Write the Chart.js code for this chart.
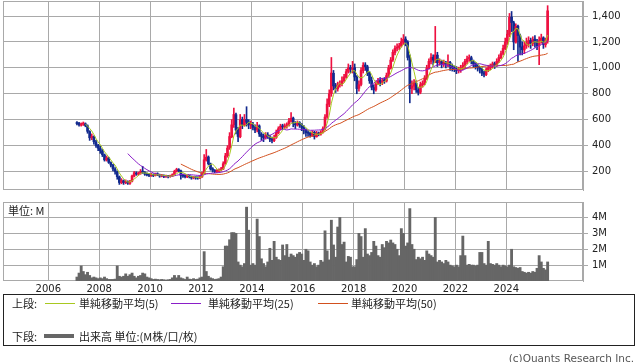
<!DOCTYPE html>
<html>
<head>
<meta charset="utf-8">
<script src="https://cdn.jsdelivr.net/npm/chart.js@4.4.1/dist/chart.umd.min.js"></script>
<style>
  body { margin: 0; background: #fff; }
  #wrap { position: relative; width: 638px; height: 362px; overflow: hidden; font-family: "DejaVu Sans", sans-serif; }
  #priceChart { position: absolute; left: 0; top: 0; }
  #volumeChart { position: absolute; left: 0; top: 196px; }
  .jp { font-family: "Noto Sans CJK JP", sans-serif; font-size: 11px; color: #222; position: absolute; line-height: 14px; white-space: nowrap; }
  #unit { left: 8px; top: 203px; }
  #legend { position: absolute; left: 3px; top: 294px; width: 630px; height: 50px; border: 1px solid #222; }
  .key { position: absolute; height: 1px; }
  #copy { position: absolute; right: 4px; top: 352px; font-size: 10.5px; color: #555; }
</style>
</head>
<body>
<div id="wrap">
  <canvas id="priceChart" width="638" height="191"></canvas>
  <canvas id="volumeChart" width="638" height="100"></canvas>
  <div class="jp" id="unit">単位: M</div>
  <div id="legend">
    <div class="jp" style="left:8px;top:1px">上段:</div>
    <div class="key" style="left:41px;top:8px;width:30px;background:#a8c820"></div>
    <div class="jp" style="left:75px;top:1px">単純移動平均(5)</div>
    <div class="key" style="left:167px;top:8px;width:30px;background:#8a1ec8"></div>
    <div class="jp" style="left:204px;top:1px">単純移動平均(25)</div>
    <div class="key" style="left:314px;top:8px;width:30px;background:#d2501e"></div>
    <div class="jp" style="left:347px;top:1px">単純移動平均(50)</div>
    <div class="jp" style="left:8px;top:34px">下段:</div>
    <div class="key" style="left:40px;top:39px;width:30px;height:4px;background:#666"></div>
    <div class="jp" style="left:75px;top:34px">出来高 単位:(M株/口/枚)</div>
  </div>
  <div id="copy">(c)Quants Research Inc.</div>
</div>
<script>
// monthly candles, Feb 2007 .. Aug 2025
const firstYear = 2007;
const firstMonth = 2;
const yearTicks = [2006, 2008, 2010, 2012, 2014, 2016, 2018, 2020, 2022, 2024];
const priceTicks = [200, 400, 600, 800, 1000, 1200, 1400];
const volumeTicks = [1, 2, 3, 4];

const opens = [
  575, 572, 558, 566, 568, 552, 508, 462, 468, 428, 402,
  378, 358, 328, 288, 303, 268, 248, 218, 198, 158, 113, 128,
  116, 122, 108, 126, 164, 188, 180, 186, 198, 193, 182, 176,
  171, 176, 169, 181, 174, 166, 171, 159, 166, 161, 164, 176,
  202, 214, 206, 171, 166, 159, 166, 161, 151, 156, 151, 149,
  158, 186, 288, 312, 258, 221, 209, 201, 204, 211, 219, 262,
  322, 382, 468, 562, 638, 522, 468, 602, 558, 602, 582, 558,
  562, 538, 522, 552, 488, 472, 458, 482, 468, 452, 438, 462,
  498, 532, 548, 543, 552, 557, 588, 612, 568, 558, 577, 562,
  538, 522, 498, 497, 478, 502, 468, 497, 488, 502, 528, 622,
  718, 802, 958, 862, 838, 872, 878, 902, 928, 972, 1002, 988,
  1002, 928, 842, 872, 978, 1022, 1008, 958, 902, 848, 832, 878,
  902, 888, 902, 898, 942, 998, 1062, 1118, 1152, 1158, 1172, 1198,
  1222, 1198, 1078, 842, 858, 882, 828, 812, 868, 882, 918, 1002,
  1048, 1082, 1058, 1098, 1042, 1048, 1032, 1038, 1028, 1042, 1012, 1002,
  992, 978, 992, 998, 1022, 1048, 1072, 1078, 1048, 1032, 1012, 998,
  988, 962, 948, 987, 998, 1012, 1032, 1018, 1052, 1078, 1112, 1148,
  1202, 1258, 1392, 1348, 1198, 1322, 1248, 1162, 1138, 1172, 1188, 1212,
  1188, 1222, 1198, 1172, 1208, 1232, 1178, 1212
];
const highs = [
  585, 580, 575, 582, 575, 560, 515, 490, 475, 440, 410,
  395, 370, 335, 320, 310, 275, 255, 230, 205, 165, 145, 135,
  135, 128, 132, 172, 200, 198, 195, 215, 240, 200, 190, 185,
  185, 182, 188, 190, 180, 178, 175, 172, 170, 172, 182, 210,
  225, 222, 210, 180, 172, 172, 170, 165, 162, 160, 158, 168,
  195, 330, 370, 320, 265, 230, 215, 215, 220, 232, 275, 340,
  400, 500, 600, 690, 650, 540, 640, 620, 640, 700, 600, 590,
  580, 560, 580, 560, 500, 490, 500, 500, 480, 465, 480, 520,
  545, 565, 565, 568, 575, 610, 655, 620, 585, 590, 585, 570,
  555, 530, 515, 505, 515, 510, 510, 505, 515, 545, 640, 760,
  830, 1080, 980, 880, 890, 900, 930, 950, 990, 1030, 1020, 1050,
  1030, 940, 900, 1000, 1040, 1040, 1020, 970, 930, 870, 900, 920,
  925, 920, 925, 960, 1020, 1080, 1140, 1170, 1185, 1190, 1230, 1257,
  1240, 1210, 1100, 900, 910, 900, 850, 890, 900, 940, 1020, 1070,
  1110, 1100, 1320, 1120, 1070, 1060, 1060, 1050, 1100, 1050, 1030, 1015,
  1010, 1005, 1020, 1040, 1065, 1090, 1100, 1090, 1060, 1040, 1025, 1010,
  1000, 975, 1000, 1020, 1030, 1045, 1045, 1070, 1100, 1130, 1175, 1230,
  1290, 1420, 1435, 1360, 1340, 1330, 1260, 1200, 1200, 1230, 1240, 1230,
  1240, 1250, 1220, 1240, 1260, 1240, 1230, 1480
];
const lows = [
  560, 550, 550, 555, 545, 495, 440, 445, 410, 385, 360,
  340, 315, 280, 280, 262, 235, 205, 180, 140, 100, 105, 100,
  105, 100, 100, 120, 158, 170, 170, 178, 185, 170, 165, 160,
  162, 160, 165, 168, 155, 158, 152, 155, 150, 155, 160, 172,
  195, 198, 140, 155, 150, 152, 150, 140, 143, 140, 140, 145,
  155, 180, 280, 250, 210, 195, 190, 190, 198, 205, 215, 255,
  310, 370, 460, 540, 490, 430, 460, 530, 550, 550, 530, 530,
  520, 500, 505, 470, 440, 430, 450, 455, 430, 420, 430, 455,
  490, 520, 525, 530, 535, 550, 580, 545, 530, 550, 540, 515,
  490, 470, 470, 465, 470, 450, 465, 475, 480, 495, 520, 610,
  700, 780, 830, 810, 820, 850, 860, 890, 920, 960, 960, 960,
  900, 800, 820, 860, 960, 980, 940, 880, 830, 800, 820, 870,
  860, 870, 880, 890, 930, 990, 1050, 1100, 1130, 1140, 1160, 1180,
  1170, 1060, 730, 800, 830, 810, 790, 800, 850, 870, 910, 990,
  1030, 1020, 1040, 1010, 1020, 1000, 1010, 1000, 1010, 980, 975, 970,
  955, 960, 965, 985, 1000, 1030, 1050, 1030, 1005, 990, 975, 960,
  940, 930, 940, 970, 985, 1000, 995, 1010, 1040, 1070, 1100, 1140,
  1180, 1240, 1280, 1140, 1190, 1050, 1100, 1100, 1110, 1150, 1160, 1150,
  1170, 1160, 1140, 1025, 1190, 1150, 1160, 1190
];
const closes = [
  570, 560, 565, 570, 555, 510, 460, 470, 430, 400, 380,
  360, 330, 290, 305, 270, 250, 220, 200, 160, 115, 130, 115,
  120, 110, 125, 165, 190, 180, 185, 200, 195, 180, 175, 170,
  175, 170, 180, 175, 165, 170, 160, 165, 160, 165, 175, 200,
  215, 205, 170, 165, 160, 165, 160, 150, 155, 150, 150, 160,
  185, 290, 310, 260, 220, 210, 200, 205, 210, 220, 260, 320,
  380, 470, 560, 640, 520, 470, 600, 560, 600, 580, 560, 560,
  540, 520, 550, 490, 470, 460, 480, 470, 450, 440, 460, 500,
  530, 550, 545, 550, 555, 590, 610, 570, 560, 575, 560, 540,
  520, 500, 495, 480, 500, 470, 495, 490, 500, 530, 620, 720,
  800, 960, 860, 840, 870, 880, 900, 930, 970, 1000, 990, 1000,
  930, 840, 870, 980, 1020, 1010, 960, 900, 850, 830, 880, 900,
  890, 900, 900, 940, 1000, 1060, 1120, 1150, 1160, 1170, 1200, 1220,
  1200, 1080, 840, 860, 880, 830, 810, 870, 880, 920, 1000, 1050,
  1080, 1060, 1100, 1040, 1050, 1030, 1040, 1030, 1040, 1010, 1000, 990,
  980, 990, 1000, 1020, 1050, 1070, 1080, 1050, 1030, 1010, 1000, 990,
  960, 950, 985, 1000, 1010, 1030, 1020, 1050, 1080, 1110, 1150, 1200,
  1260, 1390, 1350, 1200, 1320, 1250, 1160, 1140, 1170, 1190, 1210, 1190,
  1220, 1200, 1170, 1210, 1230, 1180, 1210, 1440
];
// volume in millions
const volumes = [
  0.25, 0.5, 0.95, 0.6, 0.4, 0.55, 0.35, 0.2, 0.25, 0.2, 0.15,
  0.2, 0.15, 0.25, 0.15, 0.1, 0.1, 0.1, 0.12, 0.95, 0.3, 0.25, 0.3,
  0.45, 0.3, 0.4, 0.5, 0.3, 0.2, 0.3, 0.35, 0.5, 0.45, 0.25, 0.2,
  0.15, 0.1, 0.12, 0.1, 0.08, 0.1, 0.08, 0.06, 0.08, 0.1, 0.2, 0.35,
  0.2, 0.35, 0.2, 0.15, 0.1, 0.25, 0.12, 0.1, 0.15, 0.1, 0.12, 0.2,
  0.25, 1.85, 0.6, 0.3, 0.2, 0.15, 0.1, 0.12, 0.15, 0.25, 0.9, 2.2,
  2.2, 2.6, 3.05, 3.05, 3.0, 1.2, 1.0, 0.9, 1.1, 4.65, 3.2, 1.0,
  1.1, 1.0, 3.9, 2.8, 1.4, 1.1, 0.9, 1.2, 2.06, 1.3, 2.5, 1.5,
  1.35, 1.3, 2.27, 1.6, 2.3, 1.5, 1.7, 1.6, 1.5, 1.7, 1.8, 1.7,
  1.3, 2.0, 1.9, 1.2, 1.0, 1.1, 0.9, 1.0, 1.3, 1.2, 3.16, 1.9,
  1.33, 3.83, 2.27, 1.5, 3.4, 4.0, 2.3, 2.45, 1.2, 1.55, 1.5, 0.9,
  0.9, 1.35, 3.0, 2.8, 1.5, 3.3, 1.7, 1.6, 1.8, 2.5, 2.2, 1.6,
  1.5, 2.3, 2.1, 2.5, 2.4, 2.58, 2.4, 2.3, 2.0, 1.6, 3.3, 3.0,
  2.2, 2.4, 4.56, 2.3, 2.0, 1.35, 1.5, 1.4, 1.5, 1.3, 1.9, 1.7,
  1.6, 1.5, 4.0, 1.2, 1.3, 1.2, 1.1, 1.3, 1.2, 1.0, 0.95, 0.9,
  1.0, 0.9, 1.6, 2.83, 1.6, 1.0, 1.05, 1.0, 1.0, 0.95, 1.0, 1.8,
  1.8, 1.1, 1.0, 2.5, 1.1, 1.05, 1.0, 1.1, 1.0, 0.9, 1.0, 0.95,
  0.9, 1.0, 2.0, 0.9, 0.85, 0.8, 0.85, 0.6, 0.55, 0.5, 0.55, 0.5,
  0.6, 0.55, 0.8, 1.6, 1.2, 0.8, 0.7, 1.2
];

const UP = '#ee1040';
const DOWN = '#122a8e';
const GRID = '#a9a9a9';
const tickFont = { family: 'DejaVu Sans', size: 10 };

// month centre as a decimal year
const times = closes.map((_, i) => {
  const m = firstMonth - 1 + i;
  return firstYear + Math.floor(m / 12) + ((m % 12) + 0.5) / 12;
});
const candleColors = closes.map((c, i) => (c >= opens[i] ? UP : DOWN));

function movingAverage(n) {
  const out = [];
  for (let i = n - 1; i < closes.length; i++) {
    let sum = 0;
    for (let k = i - n + 1; k <= i; k++) sum += closes[k];
    out.push({ x: times[i], y: sum / n });
  }
  return out;
}

const frame = {
  id: 'frame',
  beforeDatasetsDraw(chart) {
    const a = chart.chartArea;
    const ctx = chart.ctx;
    ctx.save();
    ctx.strokeStyle = GRID;
    ctx.lineWidth = 1;
    ctx.strokeRect(Math.round(a.left) + 0.5, Math.round(a.top) + 0.5,
      Math.round(a.right - a.left) - 1, Math.round(a.bottom - a.top) - 1);
    ctx.restore();
  }
};

const xMin = 2004.219;
const xMax = 2027.015;

function xScale(showLabels) {
  return {
    type: 'linear',
    min: xMin,
    max: xMax,
    offset: false,
    afterBuildTicks: s => { s.ticks = yearTicks.map(v => ({ value: v })); },
    afterFit: s => {
      s.height = showLabels ? 15 : 0;
      s.paddingLeft = 0; s.paddingRight = 0;
    },
    ticks: { display: showLabels, autoSkip: false, maxRotation: 0, padding: 2, font: tickFont, color: '#222', callback: v => String(v) },
    grid: { color: GRID, offset: false, drawTicks: false },
    border: { display: false }
  };
}

function yScale(min, max, tickValues, fmt) {
  return {
    position: 'right',
    min: min,
    max: max,
    afterBuildTicks: s => { s.ticks = tickValues.map(v => ({ value: v })); },
    afterFit: s => {
      s.width = 55;
      s.paddingTop = 0; s.paddingBottom = 0;
    },
    ticks: { padding: 4, font: tickFont, color: '#222', callback: fmt },
    grid: { color: GRID, tickLength: 5 },
    border: { color: GRID }
  };
}

new Chart(document.getElementById('priceChart'), {
  type: 'bar',
  data: {
    datasets: [
      { type: 'line', data: movingAverage(5), borderColor: '#a8c820', borderWidth: 1, pointRadius: 0, order: 0 },
      { type: 'line', data: movingAverage(25), borderColor: '#8a1ec8', borderWidth: 1, pointRadius: 0, order: 0 },
      { type: 'line', data: movingAverage(50), borderColor: '#d2501e', borderWidth: 1, pointRadius: 0, order: 0 },
      {
        data: times.map((t, i) => ({ x: t, y: [opens[i], closes[i]] })),
        backgroundColor: candleColors, barThickness: 2, minBarLength: 1, grouped: false, order: 1
      },
      {
        data: times.map((t, i) => ({ x: t, y: [lows[i], highs[i]] })),
        backgroundColor: candleColors, barThickness: 1, grouped: false, order: 2
      }
    ]
  },
  options: {
    responsive: false,
    animation: false,
    layout: { padding: { left: 3, top: 1, right: 0, bottom: 1 } },
    plugins: { legend: { display: false }, tooltip: { enabled: false } },
    scales: {
      x: xScale(false),
      y: yScale(57, 1516, priceTicks, v => v.toLocaleString('en-US'))
    }
  },
  plugins: [frame]
});

new Chart(document.getElementById('volumeChart'), {
  type: 'bar',
  data: {
    datasets: [{
      data: times.map((t, i) => ({ x: t, y: volumes[i] })),
      backgroundColor: '#666666', barThickness: 2.2, grouped: false
    }]
  },
  options: {
    responsive: false,
    animation: false,
    layout: { padding: { left: 3, top: 6, right: 0, bottom: 0 } },
    plugins: { legend: { display: false }, tooltip: { enabled: false } },
    scales: {
      x: xScale(true),
      y: yScale(0, 4.975, volumeTicks, v => v + 'M')
    }
  },
  plugins: [frame]
});
</script>
</body>
</html>
